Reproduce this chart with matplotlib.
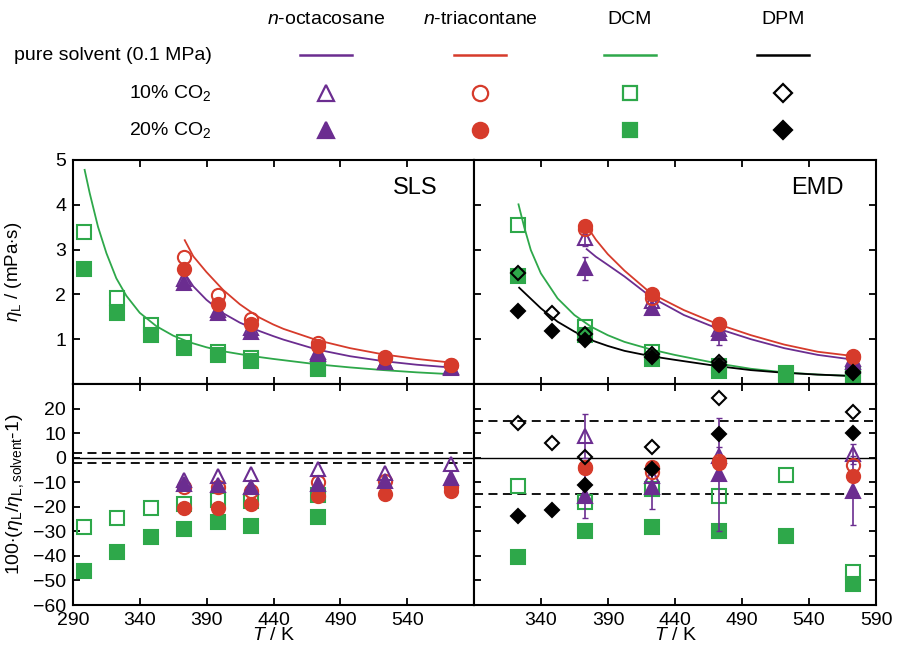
import matplotlib.pyplot as plt
from matplotlib.lines import Line2D

plt.rcParams['font.family'] = ['Liberation Sans', 'DejaVu Sans']
plt.rcParams['mathtext.fontset'] = 'custom'
plt.rcParams['mathtext.rm'] = 'Liberation Sans'
plt.rcParams['mathtext.it'] = 'Liberation Sans:italic'

PURPLE = '#6b2d90'
RED = '#d63b2b'
GREEN = '#2ea84a'
BLACK = 'black'

# ---- SLS (left) ----
T_dcm_sls = [298.15, 323.15, 348.15, 373.15, 398.15, 423.15, 473.15]
dcm_sls_10 = [3.40, 1.93, 1.32, 0.94, 0.71, 0.57, 0.36]
dcm_sls_20 = [2.56, 1.58, 1.09, 0.81, 0.64, 0.51, 0.34]
dcm_sls_dev10 = [-28.4, -24.6, -20.5, -18.9, -17.2, -17.6, -15.1]
dcm_sls_dev20 = [-46.0, -38.3, -32.5, -29.1, -26.4, -28.0, -24.3]

T_alk_sls = [373.15, 398.15, 423.15, 473.15, 523.15, 573.15]
c28_sls_10 = [2.35, 1.66, 1.25, 0.72, 0.50, 0.37]
c28_sls_20 = [2.25, 1.58, 1.17, 0.68, 0.48, 0.35]
c30_sls_10 = [2.83, 1.99, 1.45, 0.91, 0.59, 0.43]
c30_sls_20 = [2.56, 1.78, 1.33, 0.84, 0.60, 0.42]
c28_sls_dev10 = [-9.2, -7.4, -6.7, -4.7, -6.1, -2.6]
c28_sls_dev20 = [-10.8, -11.0, -12.0, -10.8, -9.4, -8.1]
c30_sls_dev10 = [-12.1, -12.1, -13.5, -10.1, -9.7, -11.8]
c30_sls_dev20 = [-20.5, -20.5, -18.9, -15.5, -14.6, -13.5]

# pure solvent curves (SLS panel)
T_dcm_line_sls = [298.7, 302.5, 308.7, 315.0, 322.4, 329.9, 339.9, 352.4, 364.9, 377.3,
                  389.8, 402.3, 422.3, 439.7, 472.4, 497.3, 522.3, 547.2, 572.2]
dcm_line_sls = [4.78, 4.26, 3.51, 2.92, 2.36, 1.97, 1.59, 1.29, 1.08, 0.93,
                0.82, 0.73, 0.63, 0.56, 0.44, 0.37, 0.31, 0.26, 0.22]
T_alk_line_sls = [373.6, 380.0, 389.8, 402.3, 414.8, 422.5, 429.7, 439.7, 447.5,
                  472.4, 497.3, 522.3, 547.2, 572.2]
c30_line_sls = [3.21, 2.85, 2.50, 2.10, 1.78, 1.62, 1.48, 1.33, 1.23,
                0.98, 0.80, 0.66, 0.56, 0.48]
c28_line_sls = [2.47, 2.18, 1.88, 1.58, 1.37, 1.27, 1.18, 1.07, 0.99,
                0.77, 0.62, 0.51, 0.43, 0.37]

# ---- EMD (right) ----
T_dcm_emd = [323.15, 373.15, 423.15, 473.15, 523.15, 573.15]
dcm_emd_10 = [3.55, 1.28, 0.72, 0.40, 0.25, 0.20]
dcm_emd_20 = [2.40, 1.09, 0.56, 0.30, 0.21, 0.13]
dcm_emd_dev10 = [-11.7, -18.0, -12.8, -15.5, -7.1, -46.7]
dcm_emd_dev20 = [-40.3, -29.8, -28.1, -29.8, -32.0, -51.4]

T_dpm_emd = [323.15, 348.15, 373.15, 423.15, 473.15, 573.15]
dpm_emd_10 = [2.47, 1.59, 1.11, 0.68, 0.48, 0.27]
dpm_emd_20 = [1.64, 1.18, 0.98, 0.61, 0.42, 0.24]
dpm_emd_dev10 = [14.3, 5.9, 0.3, 4.5, 24.4, 18.7]
dpm_emd_dev20 = [-23.9, -21.4, -11.1, -4.7, 9.8, 9.9]

T_alk_emd = [373.15, 423.15, 473.15, 573.15]
c28_emd_10 = [3.25, 1.85, 1.22, 0.55]
c28_emd_20 = [2.58, 1.69, 1.13, 0.48]
c28_emd_err10 = [0.18, 0.10, 0.10, 0.08]
c28_emd_err20 = [0.26, 0.12, 0.25, 0.10]
c30_emd_10 = [3.45, 1.93, 1.33, 0.60]
c30_emd_20 = [3.53, 2.00, 1.35, 0.62]
c28_emd_dev10 = [8.9, -7.5, 0.5, 1.4]
c28_emd_dev20 = [-15.5, -12.1, -6.7, -13.5]
c28_emd_deverr10 = [9.0, 4.0, 4.0, 4.0]
c28_emd_deverr20 = [9.0, 9.0, 23.0, 14.0]
c30_emd_dev10 = [-4.0, -6.0, -1.5, -3.0]
c30_emd_dev20 = [-4.3, -3.6, -2.0, -7.4]

# pure solvent curves (EMD panel)
T_dcm_line_emd = [323.2, 327.4, 332.4, 339.9, 352.4, 364.9, 377.3, 389.8, 402.3,
                  422.2, 439.7, 471.6, 496.6, 521.5, 546.5, 571.4]
dcm_line_emd = [4.01, 3.51, 2.99, 2.47, 1.91, 1.54, 1.28, 1.09, 0.94,
                0.77, 0.65, 0.46, 0.34, 0.26, 0.21, 0.18]
T_dpm_line_emd = [323.7, 339.9, 352.4, 364.9, 377.3, 389.8, 402.3, 422.2, 439.7,
                  471.6, 496.6, 521.5, 546.5, 571.4]
dpm_line_emd = [2.15, 1.69, 1.39, 1.17, 0.98, 0.85, 0.74, 0.62, 0.54,
                0.40, 0.31, 0.25, 0.21, 0.18]
T_alk_line_emd = [374.1, 381.0, 389.8, 402.3, 422.2, 446.6, 471.6, 496.6, 521.5, 546.5, 571.4]
c30_line_emd = [3.53, 3.22, 2.90, 2.53, 2.02, 1.65, 1.34, 1.09, 0.88, 0.72, 0.63]
c28_line_emd = [3.01, 2.84, 2.66, 2.40, 1.94, 1.54, 1.24, 1.00, 0.80, 0.65, 0.55]

xticks = [290, 340, 390, 440, 490, 540, 590]
ms = 9.5
mew = 1.5

fig = plt.figure(figsize=(9.01, 6.49), dpi=100)
W, H = 901, 649
ax_tl = fig.add_axes([73 / W, 265 / H, 401 / W, 224 / H])
ax_tr = fig.add_axes([474 / W, 265 / H, 402 / W, 224 / H])
ax_bl = fig.add_axes([73 / W, 44 / H, 401 / W, 221 / H])
ax_br = fig.add_axes([474 / W, 44 / H, 402 / W, 221 / H])


def pts(ax, x, y, marker, color, filled, size=ms, z=3):
    ax.plot(x, y, ls='none', marker=marker, ms=size, mew=mew,
            mec=color, mfc=color if filled else 'none', zorder=z)


# top left: SLS
ax_tl.plot(T_dcm_line_sls, dcm_line_sls, color=GREEN, lw=1.3)
ax_tl.plot(T_alk_line_sls, c28_line_sls, color=PURPLE, lw=1.3)
ax_tl.plot(T_alk_line_sls, c30_line_sls, color=RED, lw=1.3)
pts(ax_tl, T_dcm_sls, dcm_sls_10, 's', GREEN, False)
pts(ax_tl, T_dcm_sls, dcm_sls_20, 's', GREEN, True)
pts(ax_tl, T_alk_sls, c28_sls_10, '^', PURPLE, False)
pts(ax_tl, T_alk_sls, c28_sls_20, '^', PURPLE, True)
pts(ax_tl, T_alk_sls, c30_sls_10, 'o', RED, False, 9.5)
pts(ax_tl, T_alk_sls, c30_sls_20, 'o', RED, True, 9.5)
ax_tl.text(0.853, 0.875, 'SLS', transform=ax_tl.transAxes, fontsize=17,
           ha='center', va='center')

# top right: EMD
ax_tr.plot(T_dcm_line_emd, dcm_line_emd, color=GREEN, lw=1.3)
ax_tr.plot(T_dpm_line_emd, dpm_line_emd, color=BLACK, lw=1.3)
ax_tr.plot(T_alk_line_emd, c28_line_emd, color=PURPLE, lw=1.3)
ax_tr.plot(T_alk_line_emd, c30_line_emd, color=RED, lw=1.3)
pts(ax_tr, T_dcm_emd, dcm_emd_10, 's', GREEN, False)
pts(ax_tr, T_dcm_emd, dcm_emd_20, 's', GREEN, True)
ax_tr.errorbar(T_alk_emd, c28_emd_10, yerr=c28_emd_err10, fmt='none',
               ecolor=PURPLE, elinewidth=1.2, capsize=2.5, zorder=3)
ax_tr.errorbar(T_alk_emd, c28_emd_20, yerr=c28_emd_err20, fmt='none',
               ecolor=PURPLE, elinewidth=1.2, capsize=2.5, zorder=3)
pts(ax_tr, T_alk_emd, c28_emd_10, '^', PURPLE, False)
pts(ax_tr, T_alk_emd, c28_emd_20, '^', PURPLE, True)
pts(ax_tr, T_alk_emd, c30_emd_10, 'o', RED, False, 9.5)
pts(ax_tr, T_alk_emd, c30_emd_20, 'o', RED, True, 9.5)
pts(ax_tr, T_dpm_emd, dpm_emd_10, 'D', BLACK, False, 7.5)
pts(ax_tr, T_dpm_emd, dpm_emd_20, 'D', BLACK, True, 7.5)
ax_tr.text(0.853, 0.875, 'EMD', transform=ax_tr.transAxes, fontsize=17,
           ha='center', va='center')

# bottom left: SLS deviations
ax_bl.axhline(0, color='black', lw=1.0, zorder=1)
ax_bl.axhline(2, color='black', lw=1.3, ls=(0, (5, 3)), zorder=1)
ax_bl.axhline(-2, color='black', lw=1.3, ls=(0, (5, 3)), zorder=1)
pts(ax_bl, T_dcm_sls, dcm_sls_dev10, 's', GREEN, False)
pts(ax_bl, T_dcm_sls, dcm_sls_dev20, 's', GREEN, True)
pts(ax_bl, T_alk_sls, c30_sls_dev20, 'o', RED, True, 9.5)
pts(ax_bl, T_alk_sls, c30_sls_dev10, 'o', RED, False, 9.5)
pts(ax_bl, T_alk_sls, c28_sls_dev20, '^', PURPLE, True)
pts(ax_bl, T_alk_sls, c28_sls_dev10, '^', PURPLE, False)

# bottom right: EMD deviations
ax_br.axhline(0, color='black', lw=1.0, zorder=1)
ax_br.axhline(15, color='black', lw=1.3, ls=(0, (5, 3)), zorder=1)
ax_br.axhline(-15, color='black', lw=1.3, ls=(0, (5, 3)), zorder=1)
pts(ax_br, T_dcm_emd, dcm_emd_dev10, 's', GREEN, False)
pts(ax_br, T_dcm_emd, dcm_emd_dev20, 's', GREEN, True)
ax_br.errorbar(T_alk_emd, c28_emd_dev10, yerr=c28_emd_deverr10, fmt='none',
               ecolor=PURPLE, elinewidth=1.2, capsize=2.5, zorder=3)
ax_br.errorbar(T_alk_emd, c28_emd_dev20, yerr=c28_emd_deverr20, fmt='none',
               ecolor=PURPLE, elinewidth=1.2, capsize=2.5, zorder=3)
pts(ax_br, T_alk_emd, c28_emd_dev10, '^', PURPLE, False)
pts(ax_br, T_alk_emd, c28_emd_dev20, '^', PURPLE, True)
pts(ax_br, T_alk_emd, c30_emd_dev10, 'o', RED, False, 9.5)
pts(ax_br, T_alk_emd, c30_emd_dev20, 'o', RED, True, 9.5)
pts(ax_br, T_dpm_emd, dpm_emd_dev10, 'D', BLACK, False, 7.5)
pts(ax_br, T_dpm_emd, dpm_emd_dev20, 'D', BLACK, True, 7.5)

for ax in (ax_tl, ax_tr, ax_bl, ax_br):
    ax.set_xlim(290, 590)
    ax.set_xticks(xticks)
    for s in ax.spines.values():
        s.set_linewidth(1.5)
    ax.tick_params(direction='in', top=True, length=5, width=1.3,
                   labelsize=14, pad=5)

for ax in (ax_tl, ax_tr):
    ax.set_ylim(0, 5)
    ax.set_yticks([1, 2, 3, 4, 5])
    ax.tick_params(labelbottom=False)
for ax in (ax_bl, ax_br):
    ax.set_ylim(-60, 30)
    ax.set_yticks([-60, -50, -40, -30, -20, -10, 0, 10, 20])
    ax.set_xlabel('$T$ / K', fontsize=14)
    ax.xaxis.set_label_coords(0.5, -0.1)
for ax in (ax_tr, ax_br):
    ax.tick_params(right=True, labelleft=False)

ax_bl.set_xticklabels([str(t) for t in xticks[:-1]] + [''])
ax_br.set_xticklabels([''] + [str(t) for t in xticks[1:]])

ax_tl.set_ylabel(r'$\eta_{\rm L}$ / (mPa$\cdot$s)', fontsize=13.5)
ax_tl.yaxis.set_label_coords(-0.122, 0.5)
ax_bl.set_ylabel(r'100$\cdot$($\eta_{\rm L}$/$\eta_{\rm L,solvent}$-1)', fontsize=14)
ax_bl.yaxis.set_label_coords(-0.118, 0.5)

# legend table at the top
col_x = [326, 480, 630, 783]
col_names = ['$n$-octacosane', '$n$-triacontane', 'DCM', 'DPM']
col_colors = [PURPLE, RED, GREEN, BLACK]
col_markers = ['^', 'o', 's', 'D']
col_ms = [11, 11, 10, 9]
row_y = [20, 55, 93, 130]
row_labels = ['pure solvent (0.1 MPa)', '10% CO$_{\\rm 2}$', '20% CO$_{\\rm 2}$']

for x, name in zip(col_x, col_names):
    fig.text(x / W, 1 - row_y[0] / H, name, fontsize=14, ha='center', va='center')
for y, lab in zip(row_y[1:], row_labels):
    fig.text(212 / W, 1 - y / H, lab, fontsize=14, ha='right', va='center')
for x, c, m, s in zip(col_x, col_colors, col_markers, col_ms):
    fig.add_artist(Line2D([(x - 26) / W, (x + 26) / W], [1 - row_y[1] / H] * 2,
                          transform=fig.transFigure, color=c, lw=1.8))
    fig.add_artist(Line2D([x / W], [1 - row_y[2] / H], transform=fig.transFigure,
                          ls='none', marker=m, ms=s, mec=c, mfc='none', mew=1.6))
    fig.add_artist(Line2D([x / W], [1 - row_y[3] / H], transform=fig.transFigure,
                          ls='none', marker=m, ms=s, mec=c, mfc=c, mew=1.6))

fig.savefig('out.png', dpi=100)
